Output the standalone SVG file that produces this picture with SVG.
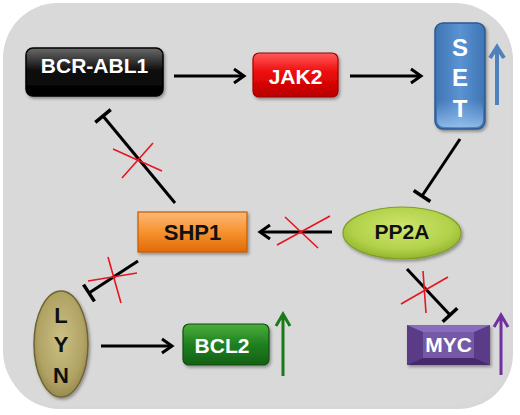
<svg xmlns="http://www.w3.org/2000/svg" width="520" height="415" viewBox="0 0 520 415">
<defs>
<style>
.lbl{font-family:"Liberation Sans",Arial,sans-serif;font-weight:bold;text-anchor:middle}
.w{fill:#fff}
.k{fill:#111}
.ln{stroke:#000;stroke-width:3;fill:none}
.x{stroke:#e8151e;stroke-width:1.6;fill:none}
</style>
<linearGradient id="gBlack" x1="0" y1="0" x2="0" y2="1">
<stop offset="0" stop-color="#6a6a6a"/><stop offset="0.45" stop-color="#111"/><stop offset="1" stop-color="#000"/>
</linearGradient>
<linearGradient id="gRed" x1="0" y1="0" x2="0" y2="1">
<stop offset="0" stop-color="#ff5a5a"/><stop offset="0.45" stop-color="#ee0a0a"/><stop offset="1" stop-color="#b80000"/>
</linearGradient>
<linearGradient id="gBlue" x1="0" y1="0" x2="1" y2="0">
<stop offset="0" stop-color="#3f74b4"/><stop offset="0.5" stop-color="#5b93d2"/><stop offset="1" stop-color="#3f74b4"/>
</linearGradient>
<linearGradient id="gBlueLow" x1="0" y1="0" x2="0" y2="1">
<stop offset="0" stop-color="#8fbbe8" stop-opacity="0"/><stop offset="1" stop-color="#9cc6f0" stop-opacity="0.8"/>
</linearGradient>
<linearGradient id="gOrange" x1="0" y1="0" x2="0" y2="1">
<stop offset="0" stop-color="#fdb877"/><stop offset="0.5" stop-color="#f7932e"/><stop offset="1" stop-color="#e06a0a"/>
</linearGradient>
<radialGradient id="gLime" cx="0.5" cy="0.4" r="0.6">
<stop offset="0" stop-color="#cfe66e"/><stop offset="0.7" stop-color="#b2d14a"/><stop offset="1" stop-color="#94b42e"/>
</radialGradient>
<radialGradient id="gOlive" cx="0.5" cy="0.45" r="0.6">
<stop offset="0" stop-color="#cbbf83"/><stop offset="0.7" stop-color="#b0a364"/><stop offset="1" stop-color="#8f8246"/>
</radialGradient>
<linearGradient id="gGreen" x1="0" y1="0" x2="0" y2="1">
<stop offset="0" stop-color="#4cae3c"/><stop offset="0.5" stop-color="#1f8020"/><stop offset="1" stop-color="#156015"/>
</linearGradient>
<filter id="sh" x="-10%" y="-10%" width="130%" height="130%">
<feDropShadow dx="1.5" dy="2" stdDeviation="1.5" flood-color="#000" flood-opacity="0.35"/>
</filter>
<marker id="arr" markerUnits="userSpaceOnUse" markerWidth="16" markerHeight="20" viewBox="-13 -10 16 20" refX="0" refY="0" orient="auto">
<path d="M-10,-7 L0,0 L-10,7" fill="none" stroke="#000" stroke-width="3"/>
</marker>
<marker id="tee" markerUnits="userSpaceOnUse" markerWidth="6" markerHeight="24" viewBox="-3 -12 6 24" refX="0" refY="0" orient="auto">
<path d="M0,-10 L0,10" fill="none" stroke="#000" stroke-width="3.5"/>
</marker>
</defs>

<rect width="520" height="415" fill="#fff"/>
<rect x="5" y="5" width="508" height="404" rx="55" fill="#bdbdbd" opacity="0.6"/>
<rect x="3" y="3" width="507" height="403" rx="55" fill="#d9d9d9"/>

<g id="connectors">
<line class="ln" x1="174" y1="76" x2="244" y2="76" marker-end="url(#arr)"/>
<line class="ln" x1="350" y1="76" x2="421" y2="76" marker-end="url(#arr)"/>
<line class="ln" x1="460" y1="139" x2="422" y2="196" marker-end="url(#tee)"/>
<line class="ln" x1="332" y1="232" x2="260" y2="232" marker-end="url(#arr)"/>
<line class="ln" x1="175" y1="203" x2="103" y2="116" marker-end="url(#tee)"/>
<line class="ln" x1="138" y1="261" x2="89" y2="293" marker-end="url(#tee)"/>
<line class="ln" x1="101" y1="346" x2="172" y2="346" marker-end="url(#arr)"/>
<line class="ln" x1="407" y1="269" x2="450" y2="315" marker-end="url(#tee)"/>
<g id="blocks">
<path class="x" d="M285,217 L318,248 M277,245 L330,216"/>
<path class="x" d="M113,149 L162,171 M153,143 L122,178"/>
<path class="x" d="M108,257 L121,303 M88,281 L137,273"/>
<path class="x" d="M423,271 L426,313 M401,304 L448,277"/>
</g>
</g>

<g id="BCR-ABL1">
<rect x="26" y="48" width="137" height="48" rx="7" fill="url(#gBlack)" stroke="#000" stroke-width="1.5" filter="url(#sh)"/>
<text class="lbl w" x="94.5" y="73" font-size="21">BCR-ABL1</text>
</g>

<g id="JAK2">
<rect x="253" y="53" width="85" height="44" rx="6" fill="url(#gRed)" stroke="#a00000" stroke-width="1.2" filter="url(#sh)"/>
<text class="lbl w" x="295.5" y="84" font-size="21">JAK2</text>
</g>

<g id="SET">
<rect x="435" y="23" width="50" height="106" rx="8" fill="url(#gBlue)" stroke="#2b5a8e" stroke-width="1.5" filter="url(#sh)"/>
<rect x="437" y="100" width="46" height="27" rx="7" fill="url(#gBlueLow)"/>
<text class="lbl w" x="460" y="56" font-size="24">S</text>
<text class="lbl w" x="460" y="86" font-size="24">E</text>
<text class="lbl w" x="460" y="117" font-size="24">T</text>
<path d="M497,105 L497,50 M490,58 L497,47 L504,58" fill="none" stroke="#4f81bd" stroke-width="4"/>
</g>

<g id="PP2A">
<ellipse cx="402" cy="233" rx="59" ry="26" fill="url(#gLime)" stroke="#7f9e2a" stroke-width="1.2" filter="url(#sh)"/>
<text class="lbl k" x="402" y="239" font-size="21">PP2A</text>
</g>

<g id="SHP1">
<rect x="138" y="212" width="109" height="40" fill="url(#gOrange)" stroke="#c55a00" stroke-width="1.2" filter="url(#sh)"/>
<text class="lbl k" x="192.5" y="240" font-size="22">SHP1</text>
</g>

<g id="LYN">
<ellipse cx="61" cy="344" rx="27" ry="53" fill="url(#gOlive)" stroke="#6f6430" stroke-width="1.5" filter="url(#sh)"/>
<text class="lbl k" x="61" y="323" font-size="22">L</text>
<text class="lbl k" x="61" y="352" font-size="22">Y</text>
<text class="lbl k" x="61" y="383" font-size="22">N</text>
</g>

<g id="BCL2">
<rect x="183" y="324" width="86" height="41" rx="6" fill="url(#gGreen)" stroke="#0f4f0f" stroke-width="1.2" filter="url(#sh)"/>
<text class="lbl w" x="222" y="353" font-size="21">BCL2</text>
<path d="M283,376 L283,316 M276,326 L283,314 L290,326" fill="none" stroke="#1a7a1a" stroke-width="3"/>
</g>

<g id="MYC">
<rect x="407" y="325" width="83" height="40" fill="#5a3b88" filter="url(#sh)"/>
<polygon points="407,325 490,325 474,332 423,332" fill="#8a6cbc"/>
<polygon points="407,365 490,365 474,358 423,358" fill="#45296c"/>
<rect x="423" y="332" width="51" height="26" fill="#7559a6"/>
<text class="lbl w" x="448.5" y="352" font-size="21">MYC</text>
<path d="M501,375 L501,317 M494,327 L501,315 L508,327" fill="none" stroke="#7030a0" stroke-width="3"/>
</g>
</svg>
